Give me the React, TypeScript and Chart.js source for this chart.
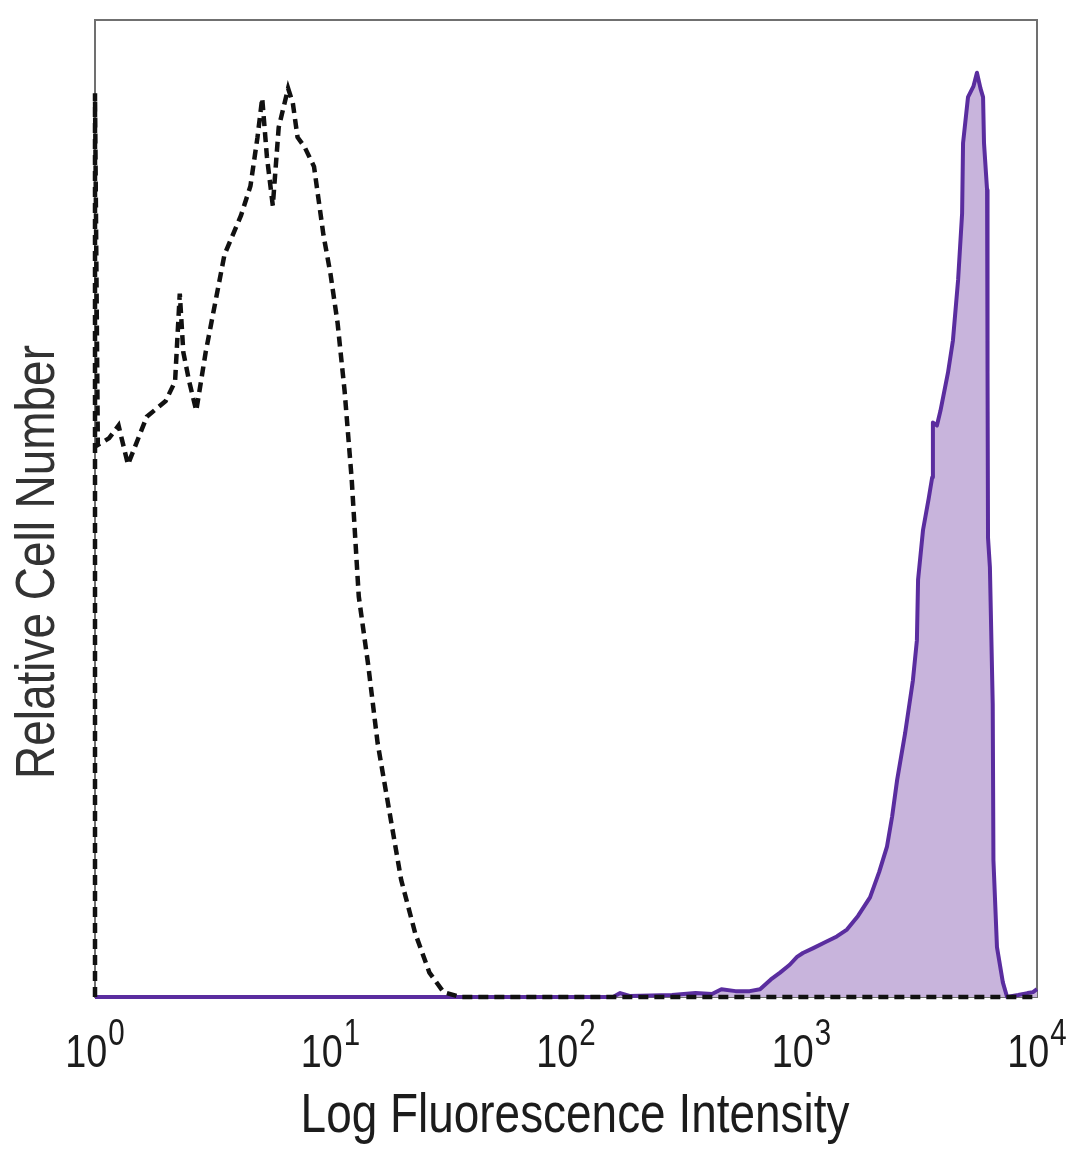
import React, { useEffect, useRef } from "react";
import { Chart, registerables } from "chart.js";

Chart.register(...registerables);

// Isotype control (dashed) — log10 intensity and relative count (%)
const isotypeLog = [0.0, 0.0, 0.012, 0.06, 0.10, 0.14, 0.22, 0.30, 0.34, 0.36, 0.375, 0.40, 0.43, 0.47, 0.51, 0.55, 0.62, 0.66, 0.69, 0.71, 0.73, 0.755, 0.78, 0.82, 0.84, 0.86, 0.89, 0.93, 0.97, 1.0, 1.03, 1.06, 1.09, 1.12, 1.16, 1.2, 1.25, 1.3, 1.36, 1.42, 1.48, 1.55, 2.0, 2.5, 3.0, 3.5, 4.0];
const isotypeCount = [0, 92.5, 56.5, 57.2, 58.5, 54.5, 59.4, 61, 63, 72, 66, 63, 60, 66, 71, 76, 80, 83, 88, 92, 86, 81, 89, 93, 91.5, 88, 87, 85, 78, 74, 69, 62, 53, 41, 34, 26, 19, 12, 6.5, 2.5, 0.5, 0, 0, 0, 0, 0, 0];

// Stained sample (purple filled)
const stainedLog = [0.0, 2.05, 2.2, 2.23, 2.27, 2.45, 2.55, 2.62, 2.66, 2.72, 2.78, 2.824, 2.87, 2.909, 2.95, 2.981, 3.006, 3.05, 3.1, 3.15, 3.193, 3.24, 3.291, 3.33, 3.363, 3.385, 3.406, 3.44, 3.473, 3.49, 3.495, 3.516, 3.54, 3.555, 3.558, 3.575, 3.59, 3.622, 3.643, 3.665, 3.682, 3.686, 3.707, 3.73, 3.745, 3.76, 3.771, 3.775, 3.788, 3.79, 3.792, 3.8, 3.812, 3.815, 3.83, 3.855, 3.873, 3.92, 3.96, 3.983, 4.0];
const stainedCount = [0, 0, 0, 0.4, 0.1, 0.2, 0.4, 0.3, 0.8, 0.6, 0.6, 0.8, 1.8, 2.5, 3.3, 4.1, 4.5, 5.0, 5.6, 6.2, 6.9, 8.3, 10.2, 12.8, 15.4, 18.5, 22.2, 27, 32.4, 36.5, 42.7, 47.8, 51, 53.2, 58.8, 58.5, 60, 63.9, 67.2, 73.4, 80.2, 87.4, 92.1, 93.2, 94.6, 93, 92.1, 87.4, 82.6, 64, 47, 44, 30, 14, 5.1, 1.5, 0, 0.2, 0.4, 0.5, 0.8];

const xTickValues = [1, 10, 100, 1000, 10000];
const xTickBase = "10";
const xTickExponents = ["0", "1", "2", "3", "4"];

const xTitle = "Log Fluorescence Intensity";
const yTitle = "Relative Cell Number";

const FONT = '"Liberation Sans", Arial, sans-serif';
const NARROW = 0.82;

function narrowText(ctx: any, text: string, x: number, y: number, font: string, align: string, rot = 0) {
  ctx.save();
  ctx.font = font;
  ctx.textAlign = align;
  ctx.textBaseline = "alphabetic";
  ctx.translate(x, y);
  if (rot) ctx.rotate(rot);
  ctx.scale(NARROW, 1);
  ctx.fillText(text, 0, 0);
  ctx.restore();
}

export default function App() {
  const ref = useRef<HTMLCanvasElement | null>(null);

  useEffect(() => {
    if (!ref.current) return;
    const frame = {
      id: "frame",
      beforeDatasetsDraw(chart: any) {
        const { ctx, chartArea } = chart;
        ctx.save();
        ctx.strokeStyle = "#707070";
        ctx.lineWidth = 2;
        ctx.strokeRect(chartArea.left, chartArea.top, chartArea.right - chartArea.left, chartArea.bottom - chartArea.top);
        ctx.restore();
      },
      afterDraw(chart: any) {
        const { ctx } = chart;
        const xs = chart.scales.x;
        const baseFont = `46px ${FONT}`;
        const expFont = `36px ${FONT}`;
        ctx.save();
        ctx.fillStyle = "#1c1c1c";
        xTickValues.forEach((v, i) => {
          const px = xs.getPixelForValue(v);
          ctx.font = baseFont;
          const w1 = ctx.measureText(xTickBase).width * NARROW;
          ctx.font = expFont;
          const w2 = ctx.measureText(xTickExponents[i]).width * NARROW;
          const start = px - (w1 + w2 + 1) / 2;
          narrowText(ctx, xTickBase, start, 1067, baseFont, "left");
          narrowText(ctx, xTickExponents[i], start + w1 + 1, 1045, expFont, "left");
        });
        narrowText(ctx, xTitle, 575, 1132, `56px ${FONT}`, "center");
        ctx.fillStyle = "#333333";
        narrowText(ctx, yTitle, 54, 562, `56px ${FONT}`, "center", -Math.PI / 2);
        ctx.restore();
      },
    };
    const chart = new Chart(ref.current, {
      type: "line",
      data: {
        datasets: [
          {
            label: "Isotype",
            data: isotypeLog.map((e, i) => ({ x: Math.pow(10, e), y: isotypeCount[i] })),
            borderColor: "#111111",
            borderWidth: 4.5,
            borderDash: [10, 6],
            pointRadius: 0,
            fill: false,
            tension: 0,
            clip: false,
            order: 0,
          },
          {
            label: "Stained",
            data: stainedLog.map((e, i) => ({ x: Math.pow(10, e), y: stainedCount[i] })),
            borderColor: "#5a2d9f",
            backgroundColor: "#c8b4dc",
            borderWidth: 4,
            borderJoinStyle: "round",
            pointRadius: 0,
            fill: "origin",
            tension: 0,
            clip: false,
            order: 1,
          },
        ],
      },
      options: {
        animation: false,
        responsive: false,
        maintainAspectRatio: false,
        layout: { padding: { left: 0, right: 43, top: 20, bottom: 0 } },
        plugins: { legend: { display: false }, tooltip: { enabled: false } },
        scales: {
          x: {
            type: "logarithmic",
            min: 1,
            max: 10000,
            grid: { display: false, drawTicks: false },
            border: { display: true, color: "#707070", width: 2 },
            afterBuildTicks: (scale: any) => {
              scale.ticks = xTickValues.map((v) => ({ value: v }));
            },
            afterFit: (scale: any) => {
              scale.height = 172;
            },
            ticks: { display: false },
            title: { display: false, text: xTitle },
          },
          y: {
            type: "linear",
            min: 0,
            max: 100,
            grid: { display: false, drawTicks: false },
            border: { display: true, color: "#707070", width: 2 },
            ticks: { display: false },
            afterFit: (scale: any) => {
              scale.width = 95;
            },
            title: { display: false, text: yTitle },
          },
        },
      },
      plugins: [frame],
    });
    return () => chart.destroy();
  }, []);

  return (
    <div style={{ position: "absolute", left: 0, top: 0, width: 1080, height: 1169, background: "#fff" }}>
      <canvas ref={ref} width={1080} height={1169} style={{ width: 1080, height: 1169 }} />
    </div>
  );
}
